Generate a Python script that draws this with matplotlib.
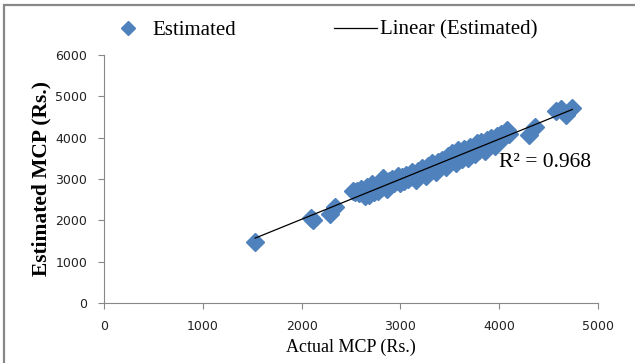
import numpy as np
import matplotlib.pyplot as plt
from matplotlib.lines import Line2D

# Actual vs estimated MCP (Rs.)
actual_mcp = [1530, 2100, 2120, 2290, 2340,
              2520, 2540, 2560, 2580, 2600, 2620, 2640, 2660, 2680, 2700,
              2710, 2730, 2750, 2770, 2790, 2800, 2820, 2840, 2860, 2880,
              2900, 2920, 2940, 2960, 2980, 3000, 3020, 3040, 3060, 3080,
              3100, 3120, 3140, 3160, 3180, 3200, 3220, 3240, 3260, 3280,
              3300, 3320, 3340, 3360, 3380, 3400, 3420, 3440, 3460, 3480,
              3500, 3520, 3540, 3560, 3580, 3600, 3620, 3640, 3660, 3680,
              3700, 3720, 3740, 3760, 3780, 3800, 3820, 3840, 3860, 3880,
              3900, 3920, 3940, 3960, 3980, 4000, 4020, 4050, 4080, 4100,
              4300, 4360, 4580, 4630, 4680, 4740]
estimated_mcp = [1480, 2060, 2020, 2150, 2320,
                 2700, 2680, 2720, 2650, 2760, 2700, 2580, 2800, 2620, 2760,
                 2870, 2680, 2820, 2710, 2900, 2780, 3020, 2850, 2750, 2950,
                 2870, 3000, 2900, 2960, 3080, 2900, 3060, 2950, 3100, 3000,
                 3040, 3180, 3080, 2980, 3200, 3120, 3260, 3150, 3080, 3320,
                 3220, 3380, 3250, 3160, 3420, 3300, 3460, 3350, 3280, 3550,
                 3400, 3620, 3480, 3380, 3700, 3560, 3480, 3720, 3600, 3520,
                 3780, 3650, 3720, 3600, 3860, 3700, 3900, 3780, 3680, 3950,
                 3830, 4000, 3880, 3800, 4050, 3950, 4100, 4020, 4180, 4100,
                 4070, 4260, 4650, 4700, 4550, 4720]
r2_label = "R\u00b2 = 0.968"

x = np.array(actual_mcp)
y = np.array(estimated_mcp)
slope, intercept = np.polyfit(x, y, 1)
xfit = np.array([x.min(), x.max()])

blue = '#4F81BD'
serif = 'Liberation Serif'
narrow = ['Liberation Sans Narrow', 'DejaVu Sans']

fig = plt.figure(figsize=(6.35, 3.63), dpi=100)
ax = fig.add_axes([0.1638, 0.1653, 0.7779, 0.6832])

ax.plot(x, y, linestyle='none', marker='D', ms=9, color=blue, mec=blue)
ax.plot(xfit, slope * xfit + intercept, color='black', lw=0.9)

ax.set_xlim(0, 5000)
ax.set_ylim(0, 6000)
ax.set_xticks(range(0, 5001, 1000))
ax.set_yticks(range(0, 6001, 1000))
for s in ['top', 'right']:
    ax.spines[s].set_visible(False)
for s in ['left', 'bottom']:
    ax.spines[s].set_color('#888888')
    ax.spines[s].set_linewidth(0.8)
ax.tick_params(direction='out', length=4, width=0.8, color='#888888', pad=8,
               labelsize=9, labelcolor='#222222')
for lab in ax.get_xticklabels() + ax.get_yticklabels():
    lab.set_family(narrow)

ax.set_xlabel('Actual MCP (Rs.)', family=serif, fontsize=13, labelpad=4)
ax.set_ylabel('Estimated MCP (Rs.)', family=serif, fontsize=15.5,
              fontweight='bold', labelpad=3)

ax.text(4000, 3390, r2_label, family=serif, fontsize=15.5, va='center', ha='left')

handles = [Line2D([], [], linestyle='none', marker='D', ms=7, color=blue),
           Line2D([], [], color='black', lw=0.9)]
fig.legend(handles, ['Estimated', 'Linear (Estimated)'], ncol=2, frameon=False,
           loc='center left', bbox_to_anchor=(106 / 635, 1 - 30 / 363),
           borderpad=0, borderaxespad=0, columnspacing=4.7,
           handlelength=2.07, handletextpad=0.15, prop={'family': serif, 'size': 15})

# outer chart frame
fig.patches.append(plt.Rectangle((0.007, -0.1), 1.2, 1.085, transform=fig.transFigure,
                                 fill=False, edgecolor='#888888', lw=1.6))

fig.savefig('out.png', dpi=100)
